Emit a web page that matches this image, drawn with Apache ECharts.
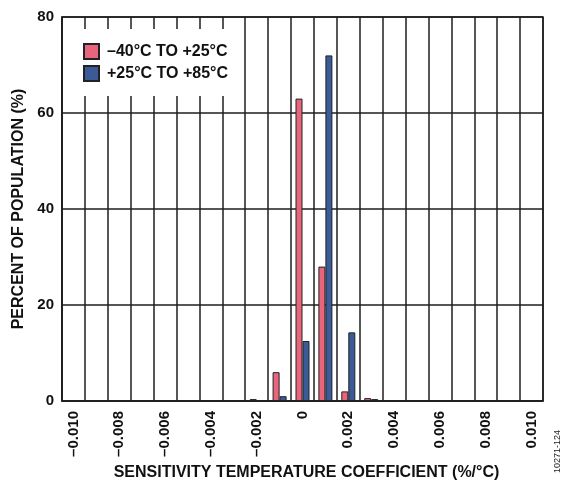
<!DOCTYPE html>
<html>
<head>
<meta charset="utf-8">
<script src="https://cdn.jsdelivr.net/npm/echarts@6/dist/echarts.min.js"></script>
<style>
html,body{margin:0;padding:0;background:#fff;}
#chart{width:563px;height:486px;}
</style>
</head>
<body>
<div id="chart"></div>
<script>
var categories = ['–0.010','–0.009','–0.008','–0.007','–0.006','–0.005','–0.004','–0.003','–0.002','–0.001','0','0.001','0.002','0.003','0.004','0.005','0.006','0.007','0.008','0.009','0.010'];
var seriesNames = ['–40°C TO +25°C', '+25°C TO +85°C'];
var lowRange  = [0,0,0,0,0,0,0,0,0.4,6,63,28,2,0.6,0,0,0,0,0,0,0];
var highRange = [0,0,0,0,0,0,0,0,0,1,12.5,72,14.3,0.4,0,0,0,0,0,0,0];
var yTicks = [0,20,40,60,80];
var colors = ['#E8657E', '#3A5A98'];

var FONT = '"Liberation Sans", Arial, sans-serif';
var LINE = '#1e1e1e';

function toBars(arr){ return arr.map(function(v){ return v === 0 ? '-' : v; }); }

var chart = echarts.init(document.getElementById('chart'), null, {renderer:'canvas'});
chart.setOption({
  animation:false,
  backgroundColor:'#fff',
  grid:{left:62, right:20, top:17, bottom:83, show:true, borderColor:LINE, borderWidth:1.5, containLabel:false},
  legend:{
    orient:'vertical', left:78, top:29,
    padding:[14,8,14,5], itemGap:5, itemWidth:15, itemHeight:15,
    backgroundColor:'#fff', icon:'rect',
    textStyle:{fontFamily:FONT, fontWeight:'bold', fontSize:16, color:'#111', padding:[0,0,0,3]},
    data:seriesNames
  },
  xAxis:{
    type:'category', data:categories, boundaryGap:true,
    axisLine:{lineStyle:{color:LINE, width:1.5}},
    axisTick:{show:false},
    splitLine:{show:true, interval:0, lineStyle:{color:LINE, width:1.5}},
    axisLabel:{interval:1, rotate:90, margin:10, fontFamily:FONT, fontWeight:'bold', fontSize:15, color:'#111'},
    name:'SENSITIVITY TEMPERATURE COEFFICIENT (%/°C)', nameLocation:'middle', nameGap:64,
    nameTextStyle:{fontFamily:FONT, fontWeight:'bold', fontSize:16, color:'#111', padding:[0,0,0,8]}
  },
  yAxis:{
    type:'value', min:yTicks[0], max:yTicks[yTicks.length-1], interval:20,
    axisLine:{show:true, lineStyle:{color:LINE, width:1.5}},
    axisTick:{show:false},
    splitLine:{show:true, lineStyle:{color:LINE, width:1.5}},
    axisLabel:{margin:8, fontFamily:FONT, fontWeight:'bold', fontSize:15, color:'#111'},
    name:'PERCENT OF POPULATION (%)', nameLocation:'middle', nameGap:31, nameRotate:90,
    nameTextStyle:{fontFamily:FONT, fontWeight:'bold', fontSize:16, color:'#111'}
  },
  graphic:[{
    type:'text', left:553, top:430, rotation:Math.PI/2,
    style:{text:'10271-124', font:'9px ' + FONT, fill:'#222'}
  }],
  series:[
    {name:seriesNames[0], type:'bar', data:toBars(lowRange), barWidth:7, barGap:'0%',
     itemStyle:{color:colors[0], borderColor:'#222', borderWidth:1}},
    {name:seriesNames[1], type:'bar', data:toBars(highRange), barWidth:7, barGap:'0%',
     itemStyle:{color:colors[1], borderColor:'#222', borderWidth:1}}
  ]
});
</script>
</body>
</html>
